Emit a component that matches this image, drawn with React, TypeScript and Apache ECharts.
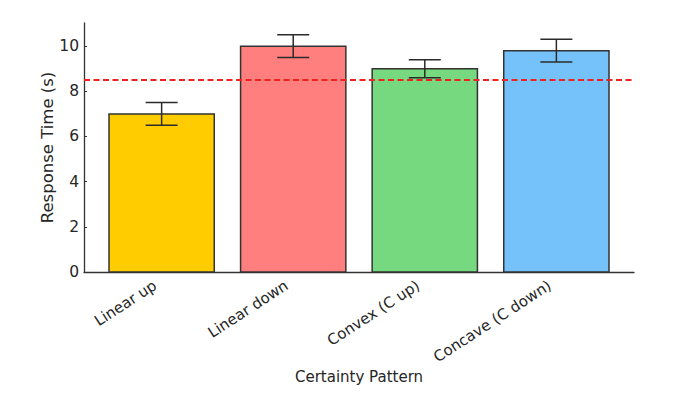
import React, { useEffect, useRef } from "react";
import * as echarts from "echarts";

const categories = ["Linear up", "Linear down", "Convex (C up)", "Concave (C down)"];
const means = [7.0, 10.0, 9.0, 9.8];
const errors = [0.5, 0.5, 0.4, 0.5];
const barColors = ["#FFCC00", "#FF7F7F", "#77D97F", "#75C1FA"];
const threshold = 8.5;
const yTicks = [0, 2, 4, 6, 8, 10];
const xTicks = [0, 1, 2, 3];

const FONT = "DejaVu Sans";
const TEXT = "#262626";
const X_MIN = -0.59;
const X_MAX = 3.59;
const LABEL_SHIFT = 0.05;

export default function App() {
  const ref = useRef<HTMLDivElement>(null);
  useEffect(() => {
    if (!ref.current) return;
    const chart = echarts.init(ref.current, undefined, { renderer: "svg" });
    const barData = categories.map((c, i) => [i, means[i], errors[i]]);
    chart.setOption({
      animation: false,
      backgroundColor: "#ffffff",
      grid: {
        left: 84,
        right: 44,
        top: 23,
        bottom: 121,
        containLabel: false,
        outerBoundsMode: "none",
      },
      xAxis: [
        {
          type: "value",
          min: X_MIN,
          max: X_MAX,
          splitLine: { show: false },
          axisLine: { show: true, onZero: false, lineStyle: { color: "#333333", width: 1.3 } },
          axisTick: {
            show: true,
            inside: true,
            length: 4,
            customValues: xTicks,
            lineStyle: { color: "#333333", width: 1 },
          },
          axisLabel: { show: false },
          name: "Certainty Pattern",
          nameLocation: "middle",
          nameGap: 97,
          nameMoveOverlap: false,
          nameTextStyle: { fontFamily: FONT, fontSize: 15, color: TEXT },
        },
        {
          type: "value",
          position: "bottom",
          min: X_MIN + LABEL_SHIFT,
          max: X_MAX + LABEL_SHIFT,
          splitLine: { show: false },
          axisLine: { show: false, onZero: false },
          axisTick: { show: false },
          axisLabel: {
            show: true,
            customValues: xTicks,
            rotate: 33,
            margin: 12,
            fontFamily: FONT,
            fontSize: 15,
            color: TEXT,
            formatter: (v: number) => categories[Math.round(v)] ?? "",
          },
        },
      ],
      yAxis: {
        type: "value",
        min: 0,
        max: 11.025,
        splitLine: { show: false },
        axisLine: { show: true, onZero: false, lineStyle: { color: "#333333", width: 1.3 } },
        axisTick: {
          show: true,
          inside: true,
          length: 3,
          customValues: yTicks,
          lineStyle: { color: "#333333", width: 1 },
        },
        axisLabel: {
          show: true,
          customValues: yTicks,
          margin: 5,
          fontFamily: FONT,
          fontSize: 15.5,
          color: TEXT,
        },
        name: "Response Time (s)",
        nameLocation: "middle",
        nameGap: 28,
        nameMoveOverlap: false,
        nameRotate: 90,
        nameTextStyle: { fontFamily: FONT, fontSize: 16.5, color: TEXT },
      },
      series: [
        {
          type: "custom",
          xAxisIndex: 0,
          data: barData,
          encode: { x: 0, y: 1 },
          renderItem: (params: any, api: any) => {
            const i = api.value(0);
            const m = api.value(1);
            const e = api.value(2);
            const w = api.size([0.8, 0])[0];
            const base = api.coord([i, 0]);
            const top = api.coord([i, m]);
            const eTop = api.coord([i, m + e]);
            const eBot = api.coord([i, m - e]);
            const cap = 16;
            const stroke = { stroke: "#2b2b2b", lineWidth: 1.5 };
            return {
              type: "group",
              children: [
                {
                  type: "rect",
                  shape: { x: base[0] - w / 2, y: top[1], width: w, height: base[1] - top[1] },
                  style: { fill: barColors[params.dataIndex], stroke: "#333333", lineWidth: 1.5 },
                },
                {
                  type: "line",
                  shape: { x1: eTop[0], y1: eTop[1], x2: eBot[0], y2: eBot[1] },
                  style: stroke,
                },
                {
                  type: "line",
                  shape: { x1: eTop[0] - cap, y1: eTop[1], x2: eTop[0] + cap, y2: eTop[1] },
                  style: stroke,
                },
                {
                  type: "line",
                  shape: { x1: eBot[0] - cap, y1: eBot[1], x2: eBot[0] + cap, y2: eBot[1] },
                  style: stroke,
                },
              ],
            };
          },
          z: 2,
        },
        {
          type: "line",
          xAxisIndex: 0,
          data: [],
          markLine: {
            silent: true,
            symbol: "none",
            label: { show: false },
            lineStyle: { color: "#EE2222", type: [6, 3.5], width: 2 },
            data: [{ yAxis: threshold }],
          },
          z: 5,
        },
      ],
    });
    return () => chart.dispose();
  }, []);
  return (
    <div
      ref={ref}
      style={{ position: "fixed", left: 0, top: 0, width: 678, height: 393, background: "#fff" }}
    />
  );
}
